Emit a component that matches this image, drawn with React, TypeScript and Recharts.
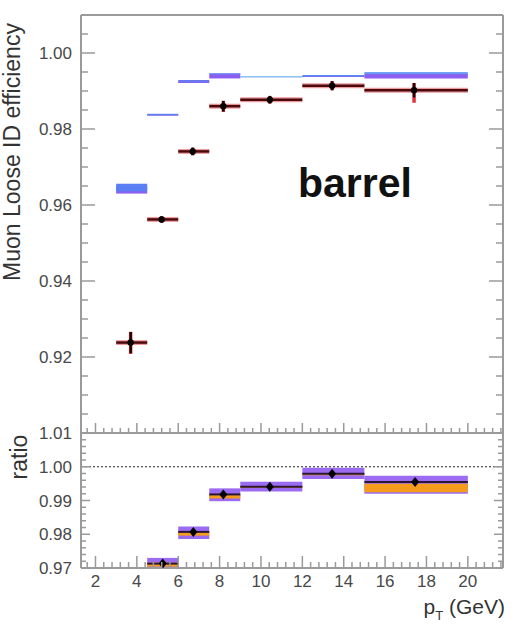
import React from 'react';
import {
  ComposedChart,
  XAxis,
  YAxis,
  Scatter,
  ReferenceArea,
  ReferenceLine,
} from 'recharts';

// pT bins (GeV)
const binLo = [3, 4.5, 6, 7.5, 9, 12, 15];
const binHi = [4.5, 6, 7.5, 9, 12, 15, 20];

// data efficiency points
const dataX = [3.7, 5.2, 6.7, 8.18, 10.43, 13.44, 17.4];
const dataEff = [0.9238, 0.9562, 0.9741, 0.986, 0.9877, 0.9914, 0.9902];
const dataStat = [0.0028, 0.0008, 0.001, 0.0014, 0.001, 0.0012, 0.0019];
const dataTotUp = [0.0028, 0.0008, 0.001, 0.0014, 0.001, 0.0012, 0.0019];
const dataTotDown = [0.003, 0.0008, 0.001, 0.0015, 0.001, 0.0012, 0.0033];

// simulation bands (two samples)
const mcALo = [0.9636, 0.9836, 0.9923, 0.9943, 0.9936, 0.9938, 0.9944];
const mcAHi = [0.9656, 0.984, 0.9929, 0.9947, 0.9939, 0.9942, 0.995];
const mcBLo = [0.963, 0.9835, 0.9921, 0.9933, 0.9936, 0.9937, 0.9933];
const mcBHi = [0.965, 0.9838, 0.9926, 0.9946, 0.9938, 0.994, 0.9946];

// ratio panel (first bin falls below range)
const ratioBin = [1, 2, 3, 4, 5, 6];
const ratioX = [5.25, 6.73, 8.18, 10.43, 13.44, 17.45];
const ratioVal = [0.9713, 0.9807, 0.9918, 0.9941, 0.9979, 0.9955];
const ratioErr = [0.0006, 0.0006, 0.0006, 0.0005, 0.0006, 0.0008];
const sysLo = [0.9695, 0.9786, 0.9898, 0.99265, 0.9964, 0.992];
const sysHi = [0.973, 0.9823, 0.9936, 0.99555, 0.9997, 0.99735];
const statLo = [0.9704, 0.9796, 0.9906, 0.9937, 0.9975, 0.99245];
const statHi = [0.9716, 0.9808, 0.9919, 0.9942, 0.998, 0.995];

// axis ticks
const xMajors = [2, 4, 6, 8, 10, 12, 14, 16, 18, 20];
const effMajors = [0.9, 0.92, 0.94, 0.96, 0.98, 1.0];
const effLabels = [0.92, 0.94, 0.96, 0.98, 1.0];
const ratioMajors = [0.97, 0.98, 0.99, 1.0, 1.01];

const steps = (from: number, to: number, step: number) => {
  const n = Math.round((to - from) / step);
  return Array.from({ length: n + 1 }, (_, i) => +(from + i * step).toFixed(4));
};
const xTicks = steps(1.6, 21.6, 0.4);
const effTicks = steps(0.9, 1.01, 0.005);
const ratioTicks = steps(0.97, 1.01, 0.002);

const frameColor = '#9a9a9a';
const labelColor = '#484848';
const font = '"Liberation Sans", Arial, sans-serif';
const mcAColors = ['#5a7ff2', '#5a7ff2', '#6a78f0', '#6f86f3', '#72d2f5', '#5a8af2', '#5c93f3'];
const mcBColor = '#8c5ff0';

const near = (v: number, list: number[]) => list.some((m) => Math.abs(m - v) < 1e-6);

type Side = 'left' | 'right' | 'top' | 'bottom';

const makeTick =
  (side: Side, majors: number[], majorLen: number, minorLen: number, labels: number[] = []) =>
  (props: any) => {
    const { x, y, payload } = props;
    const v = payload.value;
    const len = near(v, majors) ? majorLen : minorLen;
    let x2 = x;
    let y2 = y;
    if (side === 'left') x2 = x + len;
    if (side === 'right') x2 = x - len;
    if (side === 'top') y2 = y + len;
    if (side === 'bottom') y2 = y - len;
    const show = near(v, labels);
    return (
      <g>
        <line x1={x} y1={y} x2={x2} y2={y2} stroke={frameColor} strokeWidth={1.5} />
        {show && side === 'left' && (
          <text x={x - 9} y={y} dy="0.36em" textAnchor="end" fontSize={17} fill={labelColor} fontFamily={font}>
            {v.toFixed(2)}
          </text>
        )}
        {show && side === 'bottom' && (
          <text x={x} y={y + 13} dy="0.36em" textAnchor="middle" fontSize={17} fill={labelColor} fontFamily={font}>
            {String(v)}
          </text>
        )}
      </g>
    );
  };

const axisLine = { stroke: frameColor, strokeWidth: 2 };

const Dot = (p: any) => <circle cx={p.cx} cy={p.cy} r={3.2} fill="#000" />;
const Diamond = (p: any) => (
  <path d={`M${p.cx},${p.cy - 5} L${p.cx + 4},${p.cy} L${p.cx},${p.cy + 5} L${p.cx - 4},${p.cy} Z`} fill="#000" />
);

const ids = { xAxisId: 'b', yAxisId: 'l' };

const EfficiencyPanel = () => {
  const points = dataX.map((x, i) => ({ x, y: dataEff[i] }));
  return (
    <ComposedChart width={519} height={440} margin={{ top: 0, right: 0, bottom: 0, left: 0 }}>
      <XAxis xAxisId="b" type="number" dataKey="x" domain={[1.3, 21.7]} allowDataOverflow orientation="bottom"
        height={7} ticks={xTicks} interval={0} tickSize={0} tickMargin={0} axisLine={axisLine}
        tick={makeTick('bottom', xMajors, 10, 5)} />
      <XAxis xAxisId="t" type="number" domain={[1.3, 21.7]} allowDataOverflow orientation="top"
        height={15} ticks={xTicks} interval={0} tickSize={0} tickMargin={0} axisLine={axisLine}
        tick={makeTick('top', xMajors, 10, 5)} />
      <YAxis yAxisId="l" type="number" dataKey="y" domain={[0.9, 1.01]} allowDataOverflow width={81}
        ticks={effTicks} interval={0} tickSize={0} tickMargin={0} axisLine={axisLine}
        tick={makeTick('left', effMajors, 14, 7, effLabels)} />
      <YAxis yAxisId="r" type="number" orientation="right" domain={[0.9, 1.01]} allowDataOverflow width={16}
        ticks={effTicks} interval={0} tickSize={0} tickMargin={0} axisLine={axisLine}
        tick={makeTick('right', effMajors, 14, 7)} />

      {binLo.map((lo, i) => (
        <ReferenceArea key={`b${i}`} {...ids} x1={lo} x2={binHi[i]} y1={mcBLo[i]} y2={mcBHi[i]}
          fill={mcBColor} fillOpacity={1} stroke="none" ifOverflow="hidden" />
      ))}
      {binLo.map((lo, i) => (
        <ReferenceArea key={`a${i}`} {...ids} x1={lo} x2={binHi[i]} y1={mcALo[i]} y2={mcAHi[i]}
          fill={mcAColors[i]} fillOpacity={i === 3 || i === 6 ? 0.85 : 1} stroke="none" ifOverflow="hidden" />
      ))}

      {binLo.map((lo, i) => (
        <ReferenceLine key={`hr${i}`} {...ids} segment={[{ x: lo, y: dataEff[i] }, { x: binHi[i], y: dataEff[i] }]}
          stroke="#e0454a" strokeOpacity={0.55} strokeWidth={5} ifOverflow="hidden" />
      ))}
      {binLo.map((lo, i) => (
        <ReferenceLine key={`hd${i}`} {...ids} segment={[{ x: lo, y: dataEff[i] }, { x: binHi[i], y: dataEff[i] }]}
          stroke="#4a0a0c" strokeWidth={2.5} ifOverflow="hidden" />
      ))}
      {dataX.map((x, i) => (
        <ReferenceLine key={`vr${i}`} {...ids}
          segment={[{ x, y: dataEff[i] - dataTotDown[i] }, { x, y: dataEff[i] + dataTotUp[i] }]}
          stroke="#e0353c" strokeWidth={3.5} ifOverflow="hidden" />
      ))}
      {dataX.map((x, i) => (
        <ReferenceLine key={`vs${i}`} {...ids}
          segment={[{ x, y: dataEff[i] - dataStat[i] }, { x, y: dataEff[i] + dataStat[i] }]}
          stroke="#1a0505" strokeWidth={2.5} ifOverflow="hidden" />
      ))}
      <Scatter {...ids} data={points} dataKey="y" shape={Dot} isAnimationActive={false} />
    </ComposedChart>
  );
};

const RatioPanel = () => {
  const points = ratioX.map((x, i) => ({ x, y: ratioVal[i] }));
  return (
    <ComposedChart width={519} height={209} margin={{ top: 0, right: 0, bottom: 0, left: 0 }}>
      <XAxis xAxisId="b" type="number" dataKey="x" domain={[1.3, 21.7]} allowDataOverflow orientation="bottom"
        height={61} ticks={xTicks} interval={0} tickSize={0} tickMargin={0} axisLine={axisLine}
        tick={makeTick('bottom', xMajors, 12, 6, xMajors)} />
      <XAxis xAxisId="t" type="number" domain={[1.3, 21.7]} allowDataOverflow orientation="top"
        height={13} tick={false} tickLine={false} axisLine={axisLine} />
      <YAxis yAxisId="l" type="number" dataKey="y" domain={[0.97, 1.01]} allowDataOverflow width={81}
        ticks={ratioTicks} interval={0} tickSize={0} tickMargin={0} axisLine={axisLine}
        tick={makeTick('left', ratioMajors, 9, 5, ratioMajors)} />
      <YAxis yAxisId="r" type="number" orientation="right" domain={[0.97, 1.01]} allowDataOverflow width={16}
        ticks={ratioTicks} interval={0} tickSize={0} tickMargin={0} axisLine={axisLine}
        tick={makeTick('right', ratioMajors, 9, 5)} />

      <ReferenceLine {...ids} y={1} stroke="#222" strokeWidth={1} strokeDasharray="2 2" />

      {ratioBin.map((b, i) => (
        <ReferenceArea key={`s${i}`} {...ids} x1={binLo[b]} x2={binHi[b]} y1={sysLo[i]} y2={sysHi[i]}
          fill="#9b6cf2" fillOpacity={1} stroke="none" ifOverflow="hidden" />
      ))}
      {ratioBin.map((b, i) => (
        <ReferenceArea key={`o${i}`} {...ids} x1={binLo[b]} x2={binHi[b]} y1={statLo[i]} y2={statHi[i]}
          fill="#f59c1c" fillOpacity={1} stroke="none" ifOverflow="hidden" />
      ))}
      {ratioBin.map((b, i) => (
        <ReferenceLine key={`c${i}`} {...ids}
          segment={[{ x: binLo[b], y: ratioVal[i] }, { x: binHi[b], y: ratioVal[i] }]}
          stroke="#2a1636" strokeWidth={2} ifOverflow="hidden" />
      ))}
      {ratioX.map((x, i) => (
        <ReferenceLine key={`e${i}`} {...ids}
          segment={[{ x, y: ratioVal[i] - ratioErr[i] }, { x, y: ratioVal[i] + ratioErr[i] }]}
          stroke="#000" strokeWidth={2} ifOverflow="hidden" />
      ))}
      <Scatter {...ids} data={points} dataKey="y" shape={Diamond} isAnimationActive={false} />
    </ComposedChart>
  );
};

export default function App() {
  return (
    <div style={{ position: 'absolute', left: 0, top: 0, width: 519, height: 629, background: '#fff', overflow: 'hidden' }}>
      <div style={{ position: 'absolute', left: 0, top: 0 }}>
        <EfficiencyPanel />
      </div>
      <div style={{ position: 'absolute', left: 0, top: 420 }}>
        <RatioPanel />
      </div>
      <svg style={{ position: 'absolute', left: 0, top: 0 }} width={519} height={629}>
        <text transform="translate(20,152) rotate(-90)" textAnchor="middle" fontSize={23} fill="#333" fontFamily={font}>
          Muon Loose ID efficiency
        </text>
        <text transform="translate(27,457) rotate(-90)" textAnchor="middle" fontSize={23} fill="#333" fontFamily={font}>
          ratio
        </text>
        <text x={298} y={197} fontSize={41} fontWeight="bold" fill="#111" fontFamily={font}>
          barrel
        </text>
        <text x={505} y={614} textAnchor="end" fontSize={21} fill="#333" fontFamily={font}>
          p<tspan fontSize={13} dy={6}>T</tspan>
          <tspan dy={-6}> (GeV)</tspan>
        </text>
      </svg>
    </div>
  );
}
